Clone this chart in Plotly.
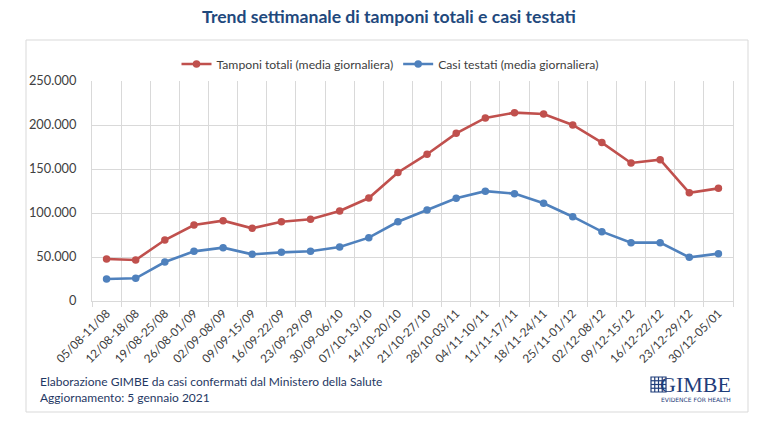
import plotly.graph_objects as go

weeks = ["05/08-11/08", "12/08-18/08", "19/08-25/08", "26/08-01/09", "02/09-08/09",
         "09/09-15/09", "16/09-22/09", "23/09-29/09", "30/09-06/10", "07/10-13/10",
         "14/10-20/10", "21/10-27/10", "28/10-03/11", "04/11-10/11", "11/11-17/11",
         "18/11-24/11", "25/11-01/12", "02/12-08/12", "09/12-15/12", "16/12-22/12",
         "23/12-29/12", "30/12-05/01"]
tamponi = [47700, 46600, 69300, 86400, 91300, 82600, 90000, 92800, 102300, 117000,
           146000, 166800, 190500, 208000, 214000, 212500, 200000, 180000, 156800, 160600,
           123000, 128000]
casi = [25000, 25800, 44300, 56400, 60600, 53000, 55300, 56500, 61400, 72000,
        90000, 103400, 116800, 124800, 122000, 111000, 95800, 78800, 66300, 66300,
        49600, 53800]
yticks = [0, 50000, 100000, 150000, 200000, 250000]

FONT = "Lato"
W, H = 767, 423
L, R, T, B = 92, 34, 81, 122
pw, ph = W - L - R, H - T - B

def px(x):
    return (x - L) / pw

def py(y):
    return (H - B - y) / ph

fig = go.Figure()
fig.add_trace(go.Scatter(x=weeks, y=tamponi, mode="lines+markers",
                         name="Tamponi totali (media giornaliera)",
                         line=dict(color="#C0504D", width=2.6),
                         marker=dict(color="#C0504D", size=7.5)))
fig.add_trace(go.Scatter(x=weeks, y=casi, mode="lines+markers",
                         name="Casi testati (media giornaliera)",
                         line=dict(color="#4F81BD", width=2.6),
                         marker=dict(color="#4F81BD", size=7.5)))

grid = "#D9D9D9"
fig.update_layout(
    width=W, height=H, autosize=False,
    margin=dict(l=L, r=R, t=T, b=B),
    paper_bgcolor="white", plot_bgcolor="white",
    separators=",.",
    font=dict(family=FONT, color="#404040", size=12),
    title=dict(text="<b>Trend settimanale di tamponi totali e casi testati</b>",
               x=389 / W, xanchor="center", y=1 - 17 / H, yanchor="middle",
               font=dict(family=FONT, size=17.6, color="#1F497D")),
    showlegend=True,
    legend=dict(orientation="h", x=px(390), xanchor="center", y=py(64), yanchor="middle",
                font=dict(family=FONT, size=12.2, color="#404040"),
                bgcolor="rgba(0,0,0,0)", itemwidth=30),
    xaxis=dict(type="category", tickson="boundaries", showgrid=True, gridcolor=grid,
               gridwidth=1, tickangle=-45, ticks="outside", ticklen=5, tickcolor=grid,
               showline=True, linecolor=grid, linewidth=1,
               tickfont=dict(family=FONT, size=11.8, color="#404040"),
               range=[-0.5, len(weeks) - 0.5], fixedrange=True),
    yaxis=dict(range=[0, 250000], tickvals=yticks, tickformat=",d", showgrid=True,
               gridcolor=grid, gridwidth=1, zeroline=False, showline=True, mirror=True,
               linecolor=grid, linewidth=1, ticks="outside", ticklen=12,
               tickcolor="rgba(0,0,0,0)",
               tickfont=dict(family=FONT, size=12.8, color="#404040"), fixedrange=True),
)

# outer frame
fig.add_shape(type="rect", xref="paper", yref="paper",
              x0=px(26), x1=px(748), y0=py(412), y1=py(40),
              line=dict(color="#D9D9D9", width=1), fillcolor="rgba(0,0,0,0)", layer="below")

# footer
fig.add_annotation(text="Elaborazione GIMBE da casi confermati dal Ministero della Salute",
                   xref="paper", yref="paper", x=px(38), y=py(381), xanchor="left",
                   yanchor="middle", showarrow=False,
                   font=dict(family=FONT, size=12, color="#1F3864"))
fig.add_annotation(text="Aggiornamento: 5 gennaio 2021",
                   xref="paper", yref="paper", x=px(38), y=py(397), xanchor="left",
                   yanchor="middle", showarrow=False,
                   font=dict(family=FONT, size=12, color="#1F3864"))

# logo
logo = "#1F3D7A"
fig.add_annotation(text="GIMBE", xref="paper", yref="paper", x=px(733), y=py(384),
                   xanchor="right", yanchor="middle", showarrow=False,
                   font=dict(family="Liberation Serif", size=22, color=logo))
fig.add_annotation(text="EVIDENCE FOR HEALTH", xref="paper", yref="paper", x=px(733),
                   y=py(399), xanchor="right", yanchor="middle", showarrow=False,
                   font=dict(family="DejaVu Sans", size=6, color=logo))
ix0, iy0, s = 651, 377, 15
fig.add_shape(type="rect", xref="paper", yref="paper", x0=px(ix0), x1=px(ix0 + s),
              y0=py(iy0 + s), y1=py(iy0), line=dict(color=logo, width=1.2),
              fillcolor="rgba(0,0,0,0)")
for k in range(1, 4):
    d = s * k / 4
    fig.add_shape(type="line", xref="paper", yref="paper", x0=px(ix0 + d), x1=px(ix0 + d),
                  y0=py(iy0 + s), y1=py(iy0), line=dict(color=logo, width=1.2))
    fig.add_shape(type="line", xref="paper", yref="paper", x0=px(ix0), x1=px(ix0 + s),
                  y0=py(iy0 + d), y1=py(iy0 + d), line=dict(color=logo, width=1.2))

fig.write_html("out.html", config={"displayModeBar": False})
